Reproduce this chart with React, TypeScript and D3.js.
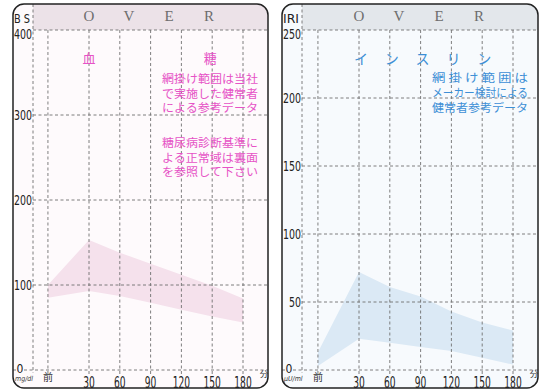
import { useEffect, useRef } from "react";
import * as d3 from "d3";

// time axis: 前 (before load) is drawn ~10 min left of 0
const timeLabels = ["前", "30", "60", "90", "120", "150", "180"];
const minutes = [-10, 30, 60, 90, 120, 150, 180];

// blood sugar reference band (mg/dl)
const bsUpper = [100, 153, 138, 125, 112, 99, 84];
const bsLower = [85, 93, 87, 79, 71, 63, 56];
const bsTicks = [0, 100, 200, 300, 400];

// insulin reference band (μU/ml)
const iriUpper = [13, 72, 61, 54, 43, 35, 29];
const iriLower = [3, 23, 20, 17, 14, 9, 4];
const iriTicks = [0, 50, 100, 150, 200, 250];

const overLetters = ["O", "V", "E", "R"];
const bsTitle = ["血", "糖"];
const bsNote1 = ["網掛け範囲は当社", "で実施した健常者", "による参考データ"];
const bsNote2 = ["糖尿病診断基準に", "よる正常域は裏面", "を参照して下さい"];
const iriTitle = ["イ", "ン", "ス", "リ", "ン"];
const iriNote = ["網 掛 け 範 囲 は", "メーカー検討による", "健常者参考データ"];

const JP = "'Noto Sans CJK JP', 'Noto Sans', sans-serif";
const NUM = "'DejaVu Sans Condensed', 'Liberation Sans Narrow', sans-serif";

type Panel = {
  key: string;
  left: number; right: number; top: number; bottom: number;
  axisX: number;
  xRange: [number, number];
  yMax: number;
  ticks: number[];
  upper: number[];
  lower: number[];
  label: string;
  unit: string;
  bg: string; header: string; band: string; ink: string;
};

const panels: Panel[] = [
  {
    key: "bs", left: 13, right: 268, top: 4, bottom: 388, axisX: 33,
    xRange: [89, 243], yMax: 400, ticks: bsTicks, upper: bsUpper, lower: bsLower,
    label: "B S", unit: "mg/dl",
    bg: "#fefafc", header: "#ece2e8", band: "#f5e1ec", ink: "#e653c6",
  },
  {
    key: "iri", left: 282, right: 538, top: 4, bottom: 388, axisX: 302,
    xRange: [359, 513], yMax: 250, ticks: iriTicks, upper: iriUpper, lower: iriLower,
    label: "IRI", unit: "μU/ml",
    bg: "#f7fafd", header: "#e3e7eb", band: "#dbe9f5", ink: "#3d8fd6",
  },
];

function drawPanel(svg: d3.Selection<SVGSVGElement, unknown, null, undefined>, p: Panel) {
  // domain [30,180] -> the 30 and 180 gridlines
  const x = d3.scaleLinear().domain([30, 180]).range(p.xRange);
  const y = d3.scaleLinear().domain([0, p.yMax]).range([370, 30]);
  const clipId = `clip-${p.key}`;

  svg.append("defs").append("clipPath").attr("id", clipId)
    .append("rect")
    .attr("x", p.left).attr("y", p.top)
    .attr("width", p.right - p.left).attr("height", p.bottom - p.top)
    .attr("rx", 11);

  const g = svg.append("g");
  const inner = g.append("g").attr("clip-path", `url(#${clipId})`);

  inner.append("rect")
    .attr("x", p.left).attr("y", p.top)
    .attr("width", p.right - p.left).attr("height", p.bottom - p.top)
    .attr("fill", p.bg);

  inner.append("rect")
    .attr("x", p.axisX).attr("y", p.top)
    .attr("width", p.right - p.axisX).attr("height", y(p.yMax) - p.top)
    .attr("fill", p.header);

  // reference band
  const pts = minutes.map((m, i) => ({ m, lo: p.lower[i], hi: p.upper[i] }));
  const area = d3.area<{ m: number; lo: number; hi: number }>()
    .x(d => x(d.m))
    .y0(d => y(d.lo))
    .y1(d => y(d.hi));
  inner.append("path").attr("d", area(pts)).attr("fill", p.band);

  // grid
  const dash = "3,2.5";
  const gridColor = "#707070";
  inner.selectAll("line.h")
    .data(p.ticks)
    .enter()
    .append("line")
    .attr("x1", d => (d === 0 ? p.left : p.axisX))
    .attr("x2", p.right)
    .attr("y1", d => y(d)).attr("y2", d => y(d))
    .attr("stroke", gridColor).attr("stroke-width", 0.9)
    .attr("stroke-dasharray", dash);

  inner.selectAll("line.v")
    .data(minutes)
    .enter()
    .append("line")
    .attr("x1", d => x(d)).attr("x2", d => x(d))
    .attr("y1", y(p.yMax)).attr("y2", y(0) + 5)
    .attr("stroke", gridColor).attr("stroke-width", 0.9)
    .attr("stroke-dasharray", dash);

  inner.append("line")
    .attr("x1", p.axisX).attr("x2", p.axisX)
    .attr("y1", p.top).attr("y2", y(0) + 3)
    .attr("stroke", gridColor).attr("stroke-width", 0.9)
    .attr("stroke-dasharray", dash);

  // border
  g.append("rect")
    .attr("x", p.left).attr("y", p.top)
    .attr("width", p.right - p.left).attr("height", p.bottom - p.top)
    .attr("rx", 11)
    .attr("fill", "none").attr("stroke", "#222").attr("stroke-width", 1.5);

  // header letters
  g.selectAll("text.over")
    .data(overLetters)
    .enter()
    .append("text")
    .attr("x", (_, i) => x(30) + i * 40)
    .attr("y", 21)
    .attr("text-anchor", "middle")
    .attr("font-family", "'Liberation Serif', serif")
    .attr("font-size", 15)
    .attr("fill", "#6d6d6d")
    .text(d => d);

  // axis name
  g.append("text")
    .attr("x", p.left + 1).attr("y", 23)
    .attr("font-family", NUM).attr("font-size", 13)
    .attr("fill", "#222")
    .attr("textLength", 16).attr("lengthAdjust", "spacingAndGlyphs")
    .text(p.label);

  // patch behind the 0 label
  g.append("rect")
    .attr("x", p.axisX - 17).attr("y", y(0) - 5)
    .attr("width", 8).attr("height", 10)
    .attr("fill", p.bg);

  // y tick labels
  const yl = g.selectAll("text.yt")
    .data(p.ticks)
    .enter()
    .append("text")
    .attr("font-family", NUM)
    .attr("fill", "#222")
    .attr("dominant-baseline", "central");
  yl.filter(d => d !== 0)
    .attr("x", p.axisX - 1)
    .attr("y", d => (d === p.yMax ? y(d) + 4 : y(d)))
    .attr("text-anchor", "end")
    .attr("font-size", 14)
    .attr("textLength", d => String(d).length * 6)
    .attr("lengthAdjust", "spacingAndGlyphs")
    .text(d => String(d));
  yl.filter(d => d === 0)
    .attr("x", p.axisX - 13)
    .attr("y", y(0) - 1)
    .attr("text-anchor", "middle")
    .attr("font-size", 12)
    .text("0");

  // x tick labels
  g.selectAll("text.xt")
    .data(minutes.slice(1))
    .enter()
    .append("text")
    .attr("x", d => x(d))
    .attr("y", 388)
    .attr("text-anchor", "middle")
    .attr("font-family", NUM)
    .attr("font-size", 15)
    .attr("fill", "#222")
    .attr("textLength", (_, i) => timeLabels[i + 1].length * 5.8)
    .attr("lengthAdjust", "spacingAndGlyphs")
    .text((_, i) => timeLabels[i + 1]);

  g.append("text")
    .attr("x", x(minutes[0])).attr("y", 381)
    .attr("text-anchor", "middle")
    .attr("font-family", JP).attr("font-size", 10)
    .attr("fill", "#333")
    .text(timeLabels[0]);

  g.append("text")
    .attr("x", p.right - 4).attr("y", 377)
    .attr("text-anchor", "middle")
    .attr("font-family", JP).attr("font-size", 8.5)
    .attr("fill", "#333")
    .text("分");

  g.append("text")
    .attr("x", p.left + 2).attr("y", 381)
    .attr("font-family", NUM).attr("font-size", 7)
    .attr("font-style", "italic")
    .attr("fill", "#333")
    .text(p.unit);

  return { g, x };
}

export default function App() {
  const svgRef = useRef<SVGSVGElement>(null);

  useEffect(() => {
    if (!svgRef.current) return;
    const svg = d3.select(svgRef.current);
    svg.selectAll("*").remove();

    const [bs, iri] = panels.map(p => drawPanel(svg, p));
    const pink = panels[0].ink;
    const blue = panels[1].ink;

    // blood sugar panel texts
    bs.g.selectAll("text.title")
      .data(bsTitle)
      .enter()
      .append("text")
      .attr("x", (_, i) => (i === 0 ? bs.x(30) : bs.x(150) - 2))
      .attr("y", 63)
      .attr("text-anchor", "middle")
      .attr("font-family", JP).attr("font-size", 13)
      .attr("fill", pink)
      .text(d => d);

    const notes = [
      ...bsNote1.map((t, i) => ({ t, y: 83 + i * 14.5 })),
      ...bsNote2.map((t, i) => ({ t, y: 147 + i * 14.5 })),
    ];
    bs.g.selectAll("text.note")
      .data(notes)
      .enter()
      .append("text")
      .attr("x", 162).attr("y", d => d.y)
      .attr("font-family", JP).attr("font-size", 11.5)
      .attr("fill", pink)
      .attr("textLength", 96).attr("lengthAdjust", "spacingAndGlyphs")
      .text(d => d.t);

    // insulin panel texts
    iri.g.selectAll("text.title")
      .data(iriTitle)
      .enter()
      .append("text")
      .attr("x", (_, i) => iri.x(30 + i * 30) + 2)
      .attr("y", 64)
      .attr("text-anchor", "middle")
      .attr("font-family", JP).attr("font-size", 14)
      .attr("fill", blue)
      .text(d => d);

    iri.g.selectAll("text.note")
      .data(iriNote)
      .enter()
      .append("text")
      .attr("x", 432).attr("y", (_, i) => 82 + i * 15)
      .attr("font-family", JP).attr("font-size", 11.5)
      .attr("fill", blue)
      .attr("textLength", 96).attr("lengthAdjust", "spacingAndGlyphs")
      .text(d => d);
  }, []);

  return (
    <svg
      ref={svgRef}
      width={549}
      height={392}
      style={{ position: "absolute", left: 0, top: 0, background: "#fff" }}
    />
  );
}
